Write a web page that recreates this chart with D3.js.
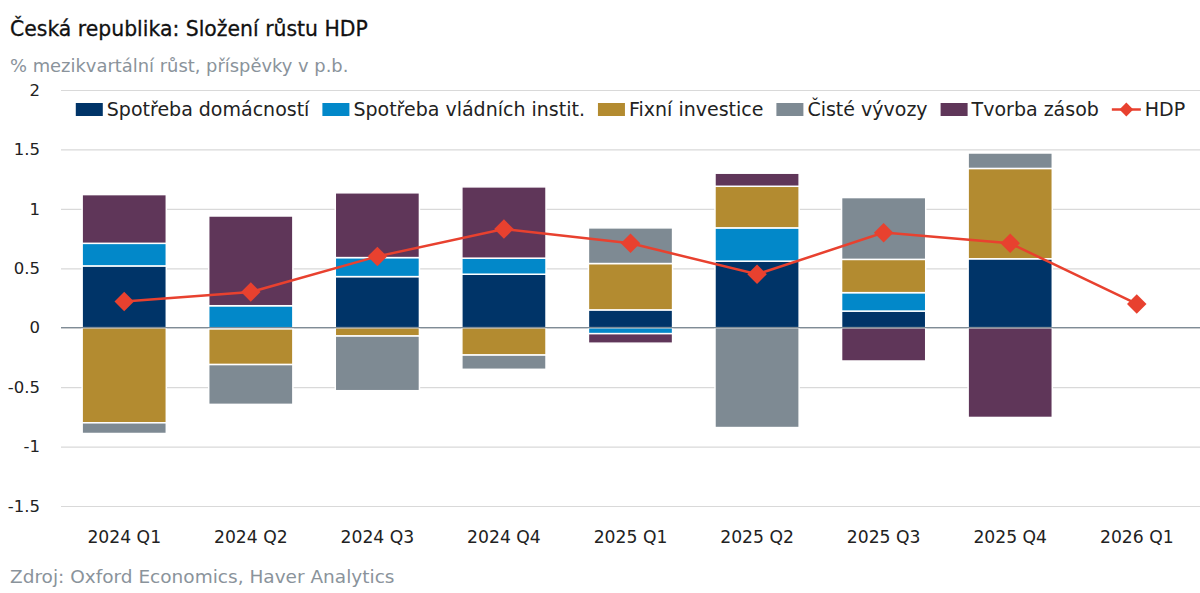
<!DOCTYPE html>
<html>
<head>
<meta charset="utf-8">
<script src="https://cdn.jsdelivr.net/npm/d3@7"></script>
<style>
  body { margin: 0; background: #fff; }
  svg text { font-family: "DejaVu Sans", "Noto Sans", sans-serif; }
</style>
</head>
<body>
<div id="chart"></div>
<script>
// data
var quarters = ["2024 Q1", "2024 Q2", "2024 Q3", "2024 Q4", "2025 Q1", "2025 Q2", "2025 Q3", "2025 Q4", "2026 Q1"];
var household = [0.52, -0.01, 0.43, 0.45, 0.15, 0.56, 0.14, 0.58, 0];
var government = [0.19, 0.185, 0.16, 0.135, -0.05, 0.28, 0.155, 0, 0];
var investment = [-0.80, -0.30, -0.07, -0.23, 0.39, 0.35, 0.28, 0.76, 0];
var netExports = [-0.09, -0.335, -0.46, -0.12, 0.30, -0.84, 0.52, 0.13, 0];
var inventories = [0.41, 0.755, 0.545, 0.60, -0.08, 0.11, -0.28, -0.755, 0];
var gdp = [0.22, 0.30, 0.60, 0.83, 0.71, 0.45, 0.80, 0.71, 0.20];
var yTicks = [-1.5, -1, -0.5, 0, 0.5, 1, 1.5, 2];

var seriesNames = ["Spotřeba domácností", "Spotřeba vládních instit.", "Fixní investice", "Čisté vývozy", "Tvorba zásob"];
var seriesColors = ["#003468", "#0288c9", "#b38b30", "#7e8a93", "#5f3659"];
var gdpName = "HDP";
var gdpColor = "#e8412f";

var width = 1200, height = 593;
var margin = {top: 90, right: 0, bottom: 87, left: 61};

var svg = d3.select("#chart").append("svg")
  .attr("width", width)
  .attr("height", height);

var rows = quarters.map(function (q, i) {
  return {q: q, s0: household[i], s1: government[i], s2: investment[i], s3: netExports[i], s4: inventories[i]};
});
var keys = ["s0", "s1", "s2", "s3", "s4"];
var stacked = d3.stack().keys(keys).offset(d3.stackOffsetDiverging)(rows);

var x = d3.scaleBand()
  .domain(quarters)
  .range([margin.left, width - margin.right])
  .paddingInner(0.335)
  .paddingOuter(0.167);

var y = d3.scaleLinear()
  .domain([-1.5, 2])
  .range([506, 90]);

// title block
svg.append("text")
  .attr("x", 10).attr("y", 36)
  .style("font-size", "20.4px")
  .attr("fill", "#111")
  .attr("stroke", "#111").attr("stroke-width", 0.3)
  .text("Česká republika: Složení růstu HDP");

svg.append("text")
  .attr("x", 10).attr("y", 72)
  .style("font-size", "17.9px")
  .attr("fill", "#8a939b")
  .text("% mezikvartální růst, příspěvky v p.b.");

svg.append("text")
  .attr("x", 10).attr("y", 583)
  .style("font-size", "18.5px")
  .attr("fill", "#8a939b")
  .text("Zdroj: Oxford Economics, Haver Analytics");

// grid
var yAxis = d3.axisLeft(y)
  .tickValues(yTicks)
  .tickSize(-(width - margin.left - margin.right))
  .tickPadding(21)
  .tickFormat(function (d) { return String(d); });

var gy = svg.append("g")
  .attr("transform", "translate(" + margin.left + ",0)")
  .call(yAxis);
gy.select(".domain").remove();
gy.selectAll(".tick line").attr("stroke", "#d9d9d9").attr("stroke-width", 1.2);
gy.selectAll(".tick text")
  .attr("fill", "#222")
  .style("font-size", "16.5px")
  .style("font-family", "'DejaVu Sans', sans-serif");

// bars
svg.append("g").selectAll("g")
  .data(stacked)
  .join("g")
    .attr("fill", function (d, i) { return seriesColors[i]; })
  .selectAll("rect")
  .data(function (d) { return d; })
  .join("rect")
    .filter(function (d) { return d[1] - d[0] !== 0; })
    .attr("x", function (d) { return x(d.data.q); })
    .attr("width", x.bandwidth())
    .attr("y", function (d) { return y(d[1]); })
    .attr("height", function (d) { return y(d[0]) - y(d[1]); })
    .attr("stroke", "#fff")
    .attr("stroke-width", 1.5);

// zero line
svg.append("line")
  .attr("x1", margin.left).attr("x2", width - margin.right)
  .attr("y1", y(0)).attr("y2", y(0))
  .attr("stroke", "#7f8c96")
  .attr("stroke-width", 1.3);

// x axis labels
var xAxis = d3.axisBottom(x).tickSize(0).tickPadding(0);
var gx = svg.append("g")
  .attr("transform", "translate(0,543)")
  .call(xAxis);
gx.select(".domain").remove();
gx.selectAll(".tick text")
  .attr("fill", "#222")
  .attr("y", 0)
  .attr("dy", 0)
  .style("font-size", "17.2px")
  .style("font-family", "'DejaVu Sans', sans-serif");

// GDP line
var cx = function (d, i) { return x(quarters[i]) + x.bandwidth() / 2; };
svg.append("path")
  .datum(gdp)
  .attr("fill", "none")
  .attr("stroke", gdpColor)
  .attr("stroke-width", 2.5)
  .attr("d", d3.line().x(cx).y(function (d) { return y(d); }));

var diamond = d3.symbol().type(d3.symbolSquare).size(190);
svg.append("g").selectAll("path")
  .data(gdp)
  .join("path")
    .attr("d", diamond)
    .attr("fill", gdpColor)
    .attr("transform", function (d, i) {
      return "translate(" + cx(d, i) + "," + y(d) + ") rotate(45)";
    });

// legend, centered above the plot
var legend = svg.append("g");
var items = seriesNames.map(function (n, i) { return {name: n, color: seriesColors[i], line: false}; });
items.push({name: gdpName, color: gdpColor, line: true});

var pos = 0;
var swW = 27, gap = 4, itemGap = 13;
items.forEach(function (it) {
  var g = legend.append("g").attr("transform", "translate(" + pos + ",0)");
  if (it.line) {
    g.append("line").attr("x1", 0).attr("x2", swW + 2).attr("y1", 0).attr("y2", 0)
      .attr("stroke", it.color).attr("stroke-width", 2.5);
    g.append("path").attr("d", d3.symbol().type(d3.symbolSquare).size(95))
      .attr("fill", it.color)
      .attr("transform", "translate(" + (swW / 2 + 1) + ",0) rotate(45)");
  } else {
    g.append("rect").attr("x", 0).attr("y", -6.5).attr("width", swW).attr("height", 13)
      .attr("fill", it.color);
  }
  var t = g.append("text")
    .attr("x", swW + gap + (it.line ? 2 : 0))
    .attr("y", 6.5)
    .style("font-size", "19px")
    .attr("fill", "#222")
    .text(it.name);
  pos += swW + gap + (it.line ? 2 : 0) + t.node().getComputedTextLength() + itemGap;
});
pos -= itemGap;
var plotMid = (margin.left + width - margin.right) / 2;
legend.attr("transform", "translate(" + (plotMid - pos / 2) + ",109.5)");
</script>
</body>
</html>
